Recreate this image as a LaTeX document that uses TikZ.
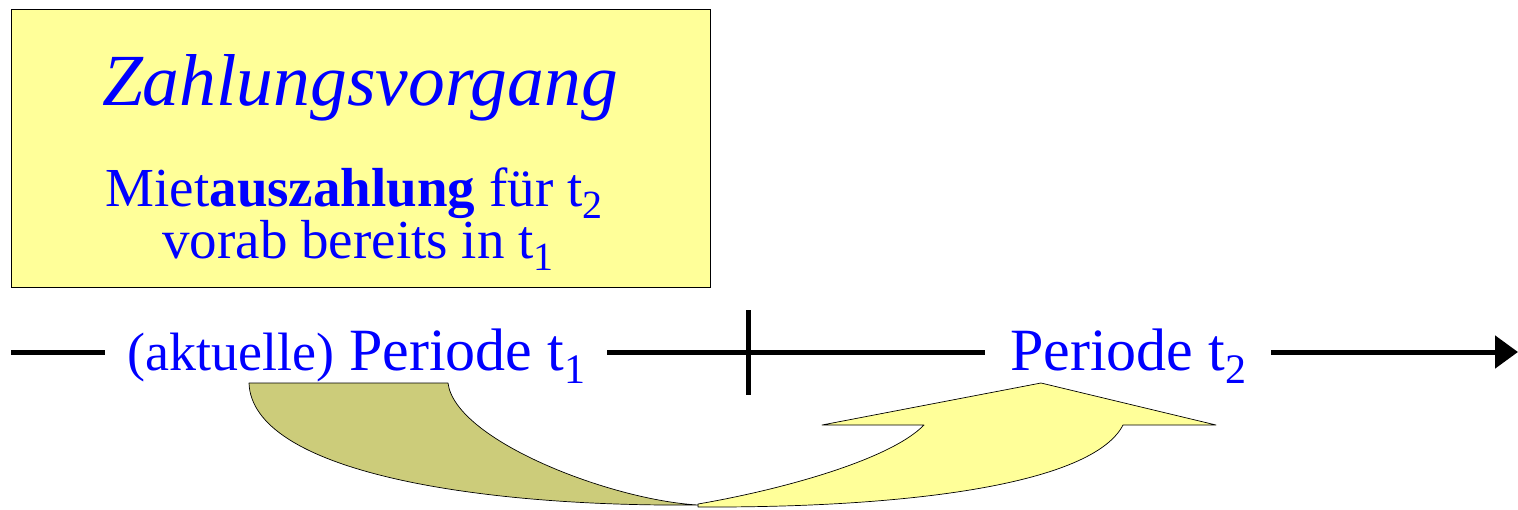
\documentclass[tikz,border=0pt]{standalone}
\usepackage{fontspec}
\setmainfont{Liberation Serif}
\usetikzlibrary{arrows.meta}
\definecolor{boxyellow}{HTML}{FFFF99}
\definecolor{bandolive}{HTML}{CCCC7A}
\definecolor{txtblue}{HTML}{0000FF}
\newcommand{\tsub}[3]{\raisebox{-#2}{\fontsize{#1}{#1}\selectfont #3}}
\begin{document}
\begin{tikzpicture}[x=1pt,y=-1pt,
  txt/.style={text=txtblue, inner sep=0pt},
  axis/.style={line width=5pt},
  band/.style={draw=black, line width=0.7pt, line join=round}]
\useasboundingbox (0,0) rectangle (1518,509);
% yellow box
\node[draw=black, line width=0.8pt, fill=boxyellow, minimum width=699pt, minimum height=278pt,
      inner sep=0pt, anchor=north west] (box) at (11,9) {};
\node[txt, anchor=base, font=\fontsize{73.5}{73.5}\selectfont\itshape] (title) at (360,105) {Zahlungsvorgang};
\node[txt, anchor=base, font=\fontsize{55}{55}\selectfont] (l1) at (354,206)
  {Miet\textbf{auszahlung} für t\tsub{40}{12pt}{2}};
\node[txt, anchor=base, font=\fontsize{55}{55}\selectfont] (l2) at (358,258)
  {vorab bereits in t\tsub{40}{12pt}{1}};
% timeline
\coordinate (a0) at (11,352);
\coordinate (aEnd) at (1518,352);
\node[txt, anchor=base west, inner xsep=22pt, font=\fontsize{60}{60}\selectfont] (p1) at (105,370)
  {{\fontsize{54}{54}\selectfont (aktuelle)} Periode t\tsub{42}{13pt}{1}};
\node[txt, anchor=base west, inner xsep=25pt, font=\fontsize{60}{60}\selectfont] (p2) at (985,370)
  {Periode t\tsub{42}{13pt}{2}};
\draw[axis] (a0) -- (a0 -| p1.west);
\draw[axis] (a0 -| p1.east) -- (a0 -| p2.west);
\draw[axis, -{Triangle[length=23pt,width=32pt]}] (a0 -| p2.east) -- (aEnd);
\coordinate (tickT) at (748,310);
\coordinate (tickB) at (748,395);
\draw[axis] (tickT) -- (tickB);
% curved arrow
\draw[band, fill=boxyellow] (698,504) .. controls (780,490) and (890,460) .. (924,425)
  -- (822,425) -- (1041,383) -- (1216,425) -- (1123,425)
  .. controls (1095,480) and (930,508) .. (698,507) -- cycle;
\draw[band, fill=bandolive] (249,383) -- (448,383)
  .. controls (455,440) and (610,500) .. (698,505)
  .. controls (470,507) and (252,470) .. (249,383) -- cycle;
\end{tikzpicture}
\end{document}
